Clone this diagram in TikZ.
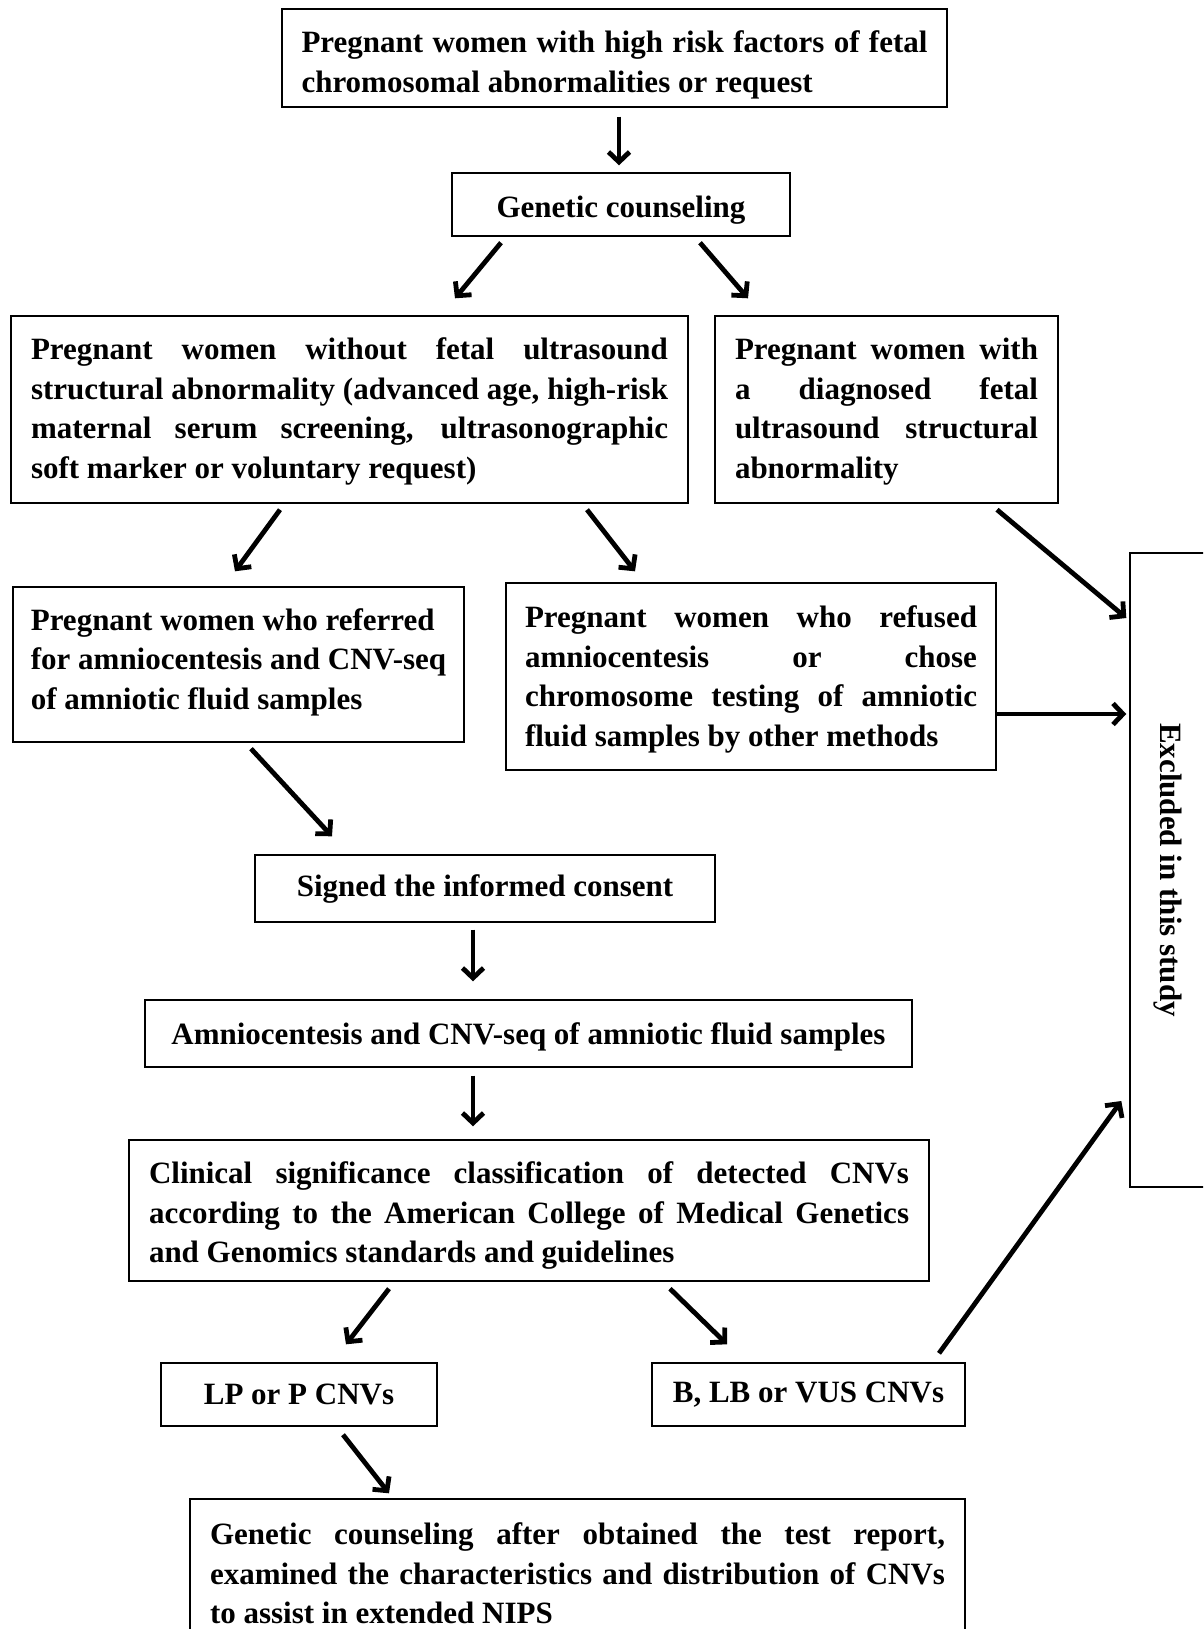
\documentclass[tikz,border=0pt]{standalone}
\usepackage{fontspec}
\setmainfont{Liberation Serif}
\usetikzlibrary{arrows.meta}
\begin{document}
\begin{tikzpicture}[x=1pt, y=-1pt, font=\bfseries\fontsize{31}{39.5}\selectfont, line join=miter,
	box/.style={draw, fill=white, line width=1.4pt, inner sep=0pt, align=center},
	jbox/.style={box, align=justify},
	arr/.style={->, >={Straight Barb[length=10pt, width=21pt]}, line width=4.8pt}]
	
	\useasboundingbox (0, 0) rectangle (1203, 1629);
	\clip (0, 0) rectangle (1203, 1629);
	
	% Hàng trên
	\node[jbox, minimum width=665pt, minimum height=98pt, text width=626pt] (top) at (614.5, 58) {\rule{0pt}{36pt}Pregnant women with high risk factors of fetal\linebreak chromosomal abnormalities or request};
	\node[box, minimum width=338pt, minimum height=63pt, text height=26pt, text depth=0pt] (gc) at (621, 204.5) {Genetic counseling};
	\node[jbox, minimum width=677pt, minimum height=187pt, text width=637pt] (wo) at (349.5, 409.5) {\rule{0pt}{26pt}Pregnant women without fetal ultrasound\linebreak structural abnormality (advanced age, high-risk\linebreak maternal serum screening, ultrasonographic\linebreak soft marker or voluntary request)};
	\node[jbox, minimum width=343pt, minimum height=187pt, text width=303pt] (wd) at (886.5, 409.5) {\rule{0pt}{26pt}Pregnant women with\linebreak a diagnosed fetal\linebreak ultrasound structural\linebreak abnormality};
	
	% Hàng giữa
	\node[box, align=left, minimum width=451pt, minimum height=155pt] (ref) at (238.5, 664.5) {Pregnant women who referred\\ for amniocentesis and CNV-seq\\ of amniotic fluid samples\rule[-11pt]{0pt}{1pt}};
	\node[jbox, minimum width=490pt, minimum height=187pt, text width=452pt] (refu) at (751, 676.5) {\rule{0pt}{28pt}Pregnant women who refused\linebreak amniocentesis or chose\linebreak chromosome testing of amniotic\linebreak fluid samples by other methods};
	\node[box, minimum width=76pt, minimum height=634pt] (excl) at (1168, 870) {\rotatebox{-90}{Excluded in this study}};
	\node[box, minimum width=460pt, minimum height=67pt] (sig) at (485, 888.5) {Signed the informed consent};
	\node[box, minimum width=767pt, minimum height=67pt, text height=28pt, text depth=7pt] (amn) at (528.5, 1033.5) {Amniocentesis and CNV-seq of amniotic fluid samples};
	
	% Hàng dưới
	\node[jbox, minimum width=800pt, minimum height=141pt, text width=760pt] (cli) at (529, 1210.5) {\rule{0pt}{32pt}Clinical significance classification of detected CNVs\linebreak according to the American College of Medical Genetics\linebreak and Genomics standards and guidelines};
	\node[box, minimum width=276pt, minimum height=63pt] (lp) at (299, 1394.5) {LP or P CNVs};
	\node[box, minimum width=313pt, minimum height=63pt] (blb) at (808.5, 1394.5) {B, LB or VUS CNVs};
	\node[jbox, minimum width=775pt, minimum height=149pt, text width=735pt] (fin) at (577.5, 1573.5) {Genetic counseling after obtained the test report,\linebreak examined the characteristics and distribution of CNVs\linebreak to assist in extended NIPS};
	
	% Mũi tên
	\draw[arr] ([shift={(4.5, 9)}]top.south) -- ([shift={(-2, -7)}]gc.north);
	\draw[arr] ([shift={(-120, 6)}]gc.south) -- ([shift={(105.5, -17)}]wo.north);
	\draw[arr] ([shift={(79, 6)}]gc.south) -- ([shift={(-138.5, -17)}]wd.north);
	\draw[arr] ([shift={(-69.5, 6)}]wo.south) -- ([shift={(-3.5, -15)}]ref.north);
	\draw[arr] ([shift={(237.5, 6)}]wo.south) -- ([shift={(-116, -11)}]refu.north);
	\draw[arr] ([shift={(110.5, 6)}]wd.south) -- ([shift={(-3, -252)}]excl.west);
	\draw[arr] ([shift={(0, 37.5)}]refu.east) -- ([shift={(-3, -156)}]excl.west);
	\draw[arr] ([shift={(12.5, 6)}]ref.south) -- ([shift={(-153, -18)}]sig.north);
	\draw[arr] ([shift={(-12, 7)}]sig.south) -- ([shift={(-55.5, -18)}]amn.north);
	\draw[arr] ([shift={(-55.5, 8)}]amn.south) -- ([shift={(-56, -13)}]cli.north);
	\draw[arr] ([shift={(-140, 7)}]cli.south) -- ([shift={(47, -18)}]lp.north);
	\draw[arr] ([shift={(141, 7)}]cli.south) -- ([shift={(-81.5, -18)}]blb.north);
	\draw[arr] ([shift={(130.5, -9)}]blb.north) -- ([shift={(-8, 231)}]excl.west);
	\draw[arr] ([shift={(44, 8)}]lp.south) -- ([shift={(-188.5, -5)}]fin.north);
\end{tikzpicture}
\end{document}
